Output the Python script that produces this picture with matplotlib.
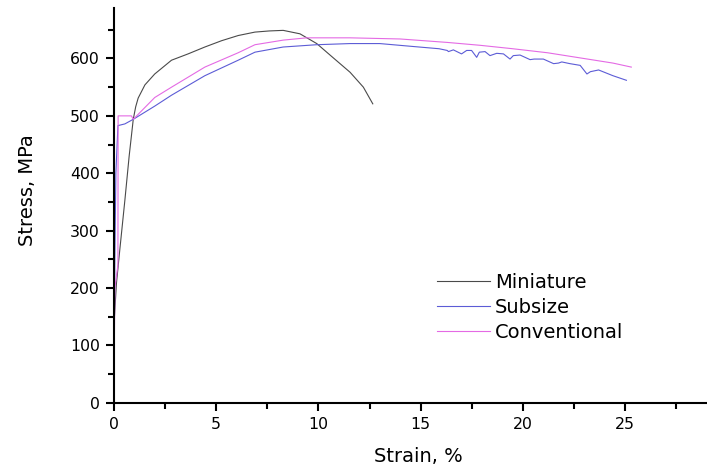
import matplotlib
matplotlib.use("Agg")
import matplotlib.pyplot as plt
from matplotlib.ticker import MultipleLocator

plt.rcParams['font.family'] = ['DejaVu Sans']

# Stress-strain data
mini_strain = [0, 0.03, 0.13, 0.29, 0.54, 0.75, 0.95, 1.07, 1.19, 1.52, 2.0, 2.82, 3.63, 4.45,
               5.27, 6.08, 6.9, 7.6, 8.28, 9.1, 9.92, 10.7, 11.55, 12.2, 12.66]
mini_stress = [0, 150, 209, 266, 353, 430, 494, 516, 531, 554, 573, 597, 608, 620,
               631, 640, 646, 648, 649, 643, 626, 602, 576, 550, 521]

sub_strain = [0, 0.05, 0.1, 0.2, 0.54, 0.95, 2.0, 2.82, 4.45, 6.08, 6.9, 8.28, 9.92,
              11.55, 13.0, 14.6, 15.9, 16.3, 16.36, 16.6, 17.0, 17.25, 17.49, 17.74,
              17.87, 18.15, 18.39, 18.72, 19.05, 19.37, 19.53, 19.86, 20.35, 20.55,
              21.0, 21.5, 21.74, 21.9, 22.3, 22.8, 23.13, 23.3, 23.7, 24.4, 25.06]
sub_stress = [0, 250, 400, 483, 486, 494, 517, 536, 570, 597, 611, 620, 624,
              626, 626, 621, 617, 614, 612, 615, 608, 614, 614, 602,
              611, 612, 605, 609, 608, 599, 605, 606, 598, 599,
              599, 591, 592, 594, 591, 588, 573, 577, 580, 570, 562]

conv_strain = [0, 0.05, 0.2, 0.21, 0.86, 0.95, 2.0, 2.82, 4.45, 6.08, 6.9, 8.28, 9.43,
               11.55, 14.0, 16.3, 17.9, 19.5, 21.2, 22.8, 24.4, 25.3]
conv_stress = [0, 200, 240, 500, 500, 494, 532, 550, 585, 610, 624, 632, 636,
               636, 634, 628, 623, 617, 610, 601, 592, 585]

fig = plt.figure(figsize=(7.07, 4.70), dpi=100)
ax = fig.add_axes([0.161, 0.143, 0.839, 0.840])

ax.plot(mini_strain, mini_stress, color="#4a4a4a", lw=0.8, label="Miniature")
ax.plot(sub_strain, sub_stress, color="#5c5cd6", lw=0.8, label="Subsize")
ax.plot(conv_strain, conv_stress, color="#e46ae4", lw=0.8, label="Conventional")

ax.set_xlim(0, 29)
ax.set_ylim(0, 688)
ax.xaxis.set_major_locator(MultipleLocator(5))
ax.xaxis.set_minor_locator(MultipleLocator(2.5))
ax.yaxis.set_major_locator(MultipleLocator(100))
ax.yaxis.set_minor_locator(MultipleLocator(50))
ax.spines['top'].set_visible(False)
ax.spines['right'].set_visible(False)
ax.spines['left'].set_linewidth(1.5)
ax.spines['bottom'].set_linewidth(1.5)
ax.tick_params(which='major', direction='out', length=6, width=1.5, labelsize=11.3, pad=4)
ax.tick_params(which='minor', direction='out', length=4, width=1.5)

ax.set_xlabel("Strain, %", fontsize=14)
ax.set_ylabel("Stress, MPa", fontsize=14)
ax.xaxis.set_label_coords(0.514, -0.112)
ax.yaxis.set_label_coords(-0.13, 0.539)

ax.legend(loc='upper left', bbox_to_anchor=(0.605, 0.44), bbox_transform=fig.transFigure,
          frameon=False, fontsize=14, handlelength=2.7, handletextpad=0.25,
          labelspacing=0.3, borderpad=0)

fig.savefig("out.png", dpi=100)
